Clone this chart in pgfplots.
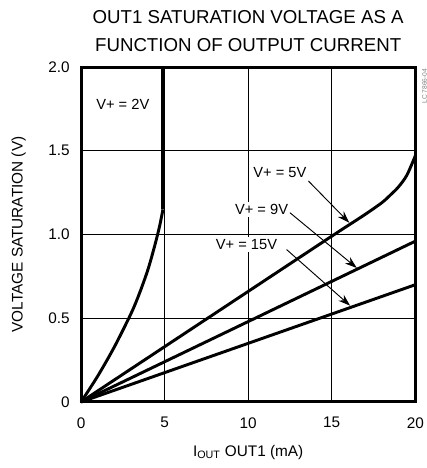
\documentclass[border=0pt]{standalone}
\usepackage{fontspec}
\setmainfont{Liberation Sans}
\usepackage{pgfplots}
\pgfplotsset{compat=1.18}
\usetikzlibrary{arrows.meta}
\begin{document}
\begin{tikzpicture}
\begin{axis}[name=ax,
  scale only axis, width=250.5pt, height=251pt,
  xmin=0, xmax=20, ymin=0, ymax=2,
  xtick={0,5,10,15,20}, ytick={0,0.5,1,1.5,2},
  yticklabels={0,0.5,1.0,1.5,2.0},
  major tick length=0pt,
  grid=major, grid style={black, line width=0.6pt},
  axis line style={line width=2.2pt},
  tick label style={font=\fontsize{11.5}{13}\selectfont},
  /pgf/number format/assume math mode=true,
  xticklabel style={yshift=-8pt},
  yticklabel style={xshift=-5pt},
  xlabel={I\textsubscript{OUT} OUT1 (mA)},
  ylabel={VOLTAGE SATURATION (V)},
  label style={font=\fontsize{11.5}{13}\selectfont},
  xlabel style={yshift=-6pt},
  ylabel style={yshift=10pt},
  title style={font=\fontsize{14}{21}\selectfont, align=center, yshift=2pt},
  title={OUT1 SATURATION VOLTAGE AS A\\FUNCTION OF OUTPUT CURRENT},
  clip=false,
]
\addplot[black, line width=2.2pt, smooth] coordinates {(0,0) (1,0.155) (2,0.33) (3,0.53) (3.5,0.65) (4,0.79) (4.4,0.93) (4.7,1.05) (4.9,1.15)};
\addplot[black, line width=2.2pt] coordinates {(4.9,1.15) (4.9,2.0)};
\addplot[black, line width=2.2pt, smooth] coordinates {(0,0) (8,0.528) (15,0.99) (16,1.055) (17,1.12) (18,1.19) (18.5,1.235) (19,1.285) (19.5,1.355) (20,1.47)};
\addplot[black, line width=2.2pt] coordinates {(0,0) (20,0.96)};
\addplot[black, line width=2.2pt] coordinates {(0,0) (20,0.70)};
\node[fill=white, inner sep=2pt, font=\fontsize{11}{13}\selectfont] at (axis cs:2.5,1.78) {V+ = 2V};
\node[fill=white, inner sep=2pt, font=\fontsize{11}{13}\selectfont] at (axis cs:11.9,1.37) {V+ = 5V};
\node[fill=white, inner sep=2pt, font=\fontsize{11}{13}\selectfont] at (axis cs:10.8,1.15) {V+ = 9V};
\node[fill=white, inner sep=2pt, font=\fontsize{11}{13}\selectfont] at (axis cs:9.9,0.94) {V+ = 15V};
\draw[-{Stealth[length=9pt,width=6pt]}, line width=0.7pt] (axis cs:13.6,1.32) -- (axis cs:16.05,1.07);
\draw[-{Stealth[length=9pt,width=6pt]}, line width=0.7pt] (axis cs:12.5,1.13) -- (axis cs:16.5,0.80);
\draw[-{Stealth[length=9pt,width=6pt]}, line width=0.7pt] (axis cs:12.3,0.91) -- (axis cs:16.1,0.575);
\node[rotate=90, anchor=north east, font=\fontsize{5}{6}\selectfont, text=gray, inner sep=0pt] at ([xshift=5pt,yshift=-1pt]rel axis cs:1,1) {LC 7866-04};
\end{axis}
\pgfresetboundingbox
\path[use as bounding box] ([xshift=-60.75pt,yshift=-49.5pt]ax.south west) rectangle ([xshift=8.25pt,yshift=50.25pt]ax.north east);
\end{tikzpicture}
\end{document}
